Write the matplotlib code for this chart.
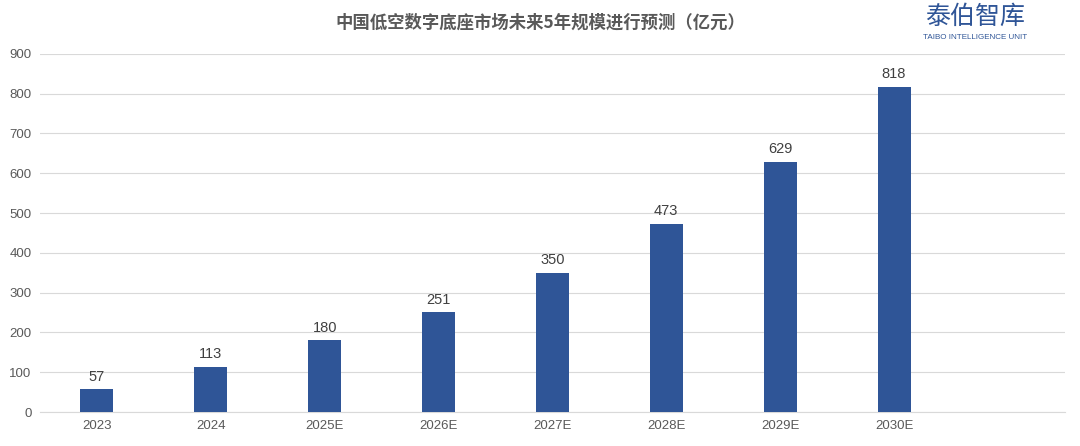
import matplotlib.pyplot as plt
import numpy as np

plt.rcParams['font.family'] = ['Liberation Sans', 'Noto Sans CJK SC']

# chart data
years = ['2023', '2024', '2025E', '2026E', '2027E', '2028E', '2029E', '2030E']
market_size = [57, 113, 180, 251, 350, 473, 629, 818]
y_ticks = [0, 100, 200, 300, 400, 500, 600, 700, 800, 900]

fig = plt.figure(figsize=(10.8, 4.46), dpi=100)
ax = fig.add_axes([0.037, 0.0762, 0.949, 0.803])

x = np.arange(len(years))
ax.bar(x, market_size, width=0.29, color='#2F5597', zorder=3)

# value labels above bars
for xi, v in zip(x, market_size):
    ax.text(xi, v + 14, str(v), ha='center', va='bottom', fontsize=10.5, color='#404040')

ax.set_xlim(-0.5, len(years) + 0.5)
ax.set_ylim(0, 900)
ax.set_xticks(x)
ax.set_xticklabels(years, fontsize=9.5, color='#595959')
ax.set_yticks(y_ticks)
ax.set_yticklabels([str(t) for t in y_ticks], fontsize=9.5, color='#595959')
ax.tick_params(length=0, pad=6)
ax.grid(axis='y', color='#d9d9d9', linewidth=0.8, zorder=0)
for s in ['top', 'right', 'left']:
    ax.spines[s].set_visible(False)
ax.spines['bottom'].set_color('#d9d9d9')

# title and logo
fig.text(0.5, 0.95, '中国低空数字底座市场未来5年规模进行预测（亿元）',
         ha='center', va='center', fontsize=12.5, fontweight='bold', color='#595959',
         fontfamily='Noto Sans CJK SC')
fig.text(0.903, 0.962, '泰伯智库', ha='center', va='center', fontsize=18, color='#2F5597',
         fontfamily='Noto Sans CJK SC')
fig.text(0.903, 0.915, 'TAIBO INTELLIGENCE UNIT', ha='center', va='center',
         fontsize=5.8, color='#2F5597')

fig.savefig('out.png', dpi=100)
